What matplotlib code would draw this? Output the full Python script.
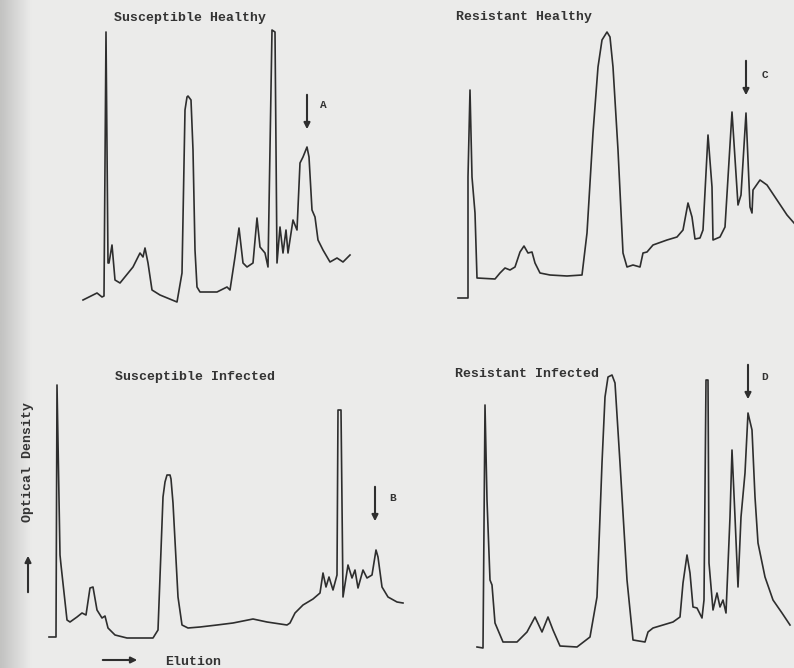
import numpy as np
import matplotlib
matplotlib.use("Agg")
import matplotlib.pyplot as plt

# elution position (arbitrary units) and optical density (arbitrary units)
sh_elution = [3, 17, 22, 24, 26, 28, 29, 32, 35, 40, 53, 60, 63, 65, 68, 72, 80, 97, 102, 105, 107, 108,
              111, 113, 115, 117, 120, 137, 147, 150, 155, 159, 163, 167, 173, 177, 180, 185, 188, 192,
              195, 197, 200, 203, 206, 208, 213, 217, 220, 223, 227, 229, 232, 235, 238, 243, 250, 257,
              263, 270]
sh_od = [10, 17, 13, 14, 278, 47, 47, 65, 30, 27, 43, 57, 53, 62, 47, 20, 15, 8, 37, 200, 213, 214,
         210, 160, 60, 23, 18, 18, 23, 20, 53, 82, 47, 43, 47, 92, 63, 57, 43, 280,
         278, 47, 83, 57, 80, 57, 90, 80, 147, 153, 163, 153, 100, 93, 70, 60, 48, 52,
         48, 55]

rh_elution = [8, 18, 18, 20, 22, 25, 27, 45, 50, 55, 60, 65, 70, 74, 78, 82, 85, 90, 100, 117, 132, 137,
              143, 148, 152, 157, 160, 163, 168, 173, 177, 183, 190, 193, 197, 203, 217, 227, 233, 238,
              242, 245, 250, 253, 258, 262, 263, 270, 275, 282, 288, 291, 296, 300, 302, 303, 310, 317,
              327, 337, 344]
rh_od = [12, 12, 133, 220, 133, 97, 32, 31, 37, 42, 40, 43, 58, 64, 57, 58, 47, 37, 35, 34, 35, 77,
         177, 243, 270, 278, 273, 243, 160, 57, 43, 45, 43, 57, 58, 65, 70, 73, 80, 107,
         93, 71, 72, 80, 175, 123, 70, 73, 83, 198, 105, 115, 197, 103, 97, 120, 130, 125,
         110, 95, 87]

si_elution = [4, 11, 12, 15, 16, 22, 25, 32, 37, 41, 45, 48, 52, 57, 60, 63, 70, 82, 108, 113, 118, 120,
              122, 125, 126, 128, 133, 137, 143, 155, 172, 188, 208, 222, 242, 245, 250, 258, 268, 275,
              278, 281, 284, 288, 292, 293, 296, 298, 303, 307, 310, 313, 318, 322, 327, 331, 333, 337,
              343, 352, 358]
si_od = [8, 8, 260, 90, 80, 25, 23, 28, 32, 30, 57, 58, 35, 27, 29, 17, 10, 7, 7, 15, 148, 163,
         170, 170, 166, 142, 48, 20, 17, 18, 20, 22, 26, 23, 20, 22, 32, 40, 46, 52,
         72, 58, 68, 55, 70, 235, 235, 48, 80, 67, 75, 57, 75, 67, 70, 95, 88, 58,
         48, 43, 42]

ri_elution = [7, 13, 15, 17, 20, 22, 25, 33, 47, 57, 65, 72, 78, 83, 90, 107, 120, 127, 132, 135, 138, 142,
              145, 150, 157, 163, 175, 178, 183, 203, 210, 213, 217, 220, 223, 227, 232, 234, 236, 238,
              239, 243, 247, 250, 253, 256, 260, 262, 265, 268, 271, 275, 278, 282, 285, 288, 295, 303,
              312, 320]
ri_od = [13, 12, 255, 160, 80, 75, 37, 18, 18, 28, 43, 28, 43, 30, 14, 13, 23, 63, 197, 263, 283, 285,
         277, 197, 80, 20, 18, 28, 32, 38, 43, 77, 105, 87, 53, 52, 42, 60, 280, 280,
         97, 50, 67, 53, 60, 47, 143, 210, 143, 73, 143, 187, 247, 230, 163, 117, 83, 60,
         47, 35]

titles = ["Susceptible Healthy", "Resistant Healthy", "Susceptible Infected", "Resistant Infected"]
marks = ["A", "C", "B", "D"]

W, H = 794, 668
ink = "#2e2e2e"
font = dict(family="Liberation Mono", fontweight="bold", color="#333333")

fig = plt.figure(figsize=(W / 100, H / 100), dpi=100)
fig.patch.set_facecolor("#dfdfdd")

# paper tone, a little darker at the left edge
bg = fig.add_axes([0, 0, 1, 1], zorder=-1)
grad = np.linspace(0, 1, 400)
bg.imshow(np.tile(np.clip(grad * 26, 0, 1), (2, 1)), cmap="gray", vmin=-1.5, vmax=1.0,
          aspect="auto", extent=[0, 1, 0, 1], alpha=0.4)
bg.set_xlim(0, 1)
bg.set_ylim(0, 1)
bg.axis("off")


def panel(x0, y_top, x1, y_base):
    # box given in figure pixels
    ax = fig.add_axes([x0 / W, (H - y_base) / H, (x1 - x0) / W, (y_base - y_top) / H])
    ax.set_xlim(0, x1 - x0)
    ax.set_ylim(0, y_base - y_top)
    ax.axis("off")
    ax.patch.set_alpha(0)
    return ax


axes = [panel(80, 5, 360, 310), panel(450, 5, 794, 310),
        panel(45, 345, 410, 645), panel(470, 360, 794, 660)]
traces = [(sh_elution, sh_od), (rh_elution, rh_od), (si_elution, si_od), (ri_elution, ri_od)]
title_pos = [(110, 292), (74, 293), (150, 268), (57, 286)]
arrow_x = [227, 296, 330, 278]
arrow_top = [218, 252, 161, 298]
label_pos = [(243, 205), (315, 235), (348, 147), (295, 283)]

for ax, (x, y), t, tp, m, ax_x, ax_t, lp in zip(axes, traces, titles, title_pos, marks,
                                                arrow_x, arrow_top, label_pos):
    ax.plot(x, y, color=ink, lw=1.2, solid_joinstyle="round")
    ax.text(tp[0], tp[1], t, ha="center", va="center", fontsize=9.5, **font)
    ax.annotate("", xy=(ax_x, ax_t - 40), xytext=(ax_x, ax_t),
                arrowprops=dict(arrowstyle="-|>", color=ink, lw=1.5, mutation_scale=9))
    ax.text(lp[0], lp[1], m, ha="center", va="center", fontsize=8, **font)

ax = axes[2]
ax.text(-17, 183, "Optical Density", rotation=90, ha="center", va="center", fontsize=9.5, **font)
ax.annotate("", xy=(-17, 92), xytext=(-17, 50), annotation_clip=False,
            arrowprops=dict(arrowstyle="-|>", color=ink, lw=1.5, mutation_scale=9))
ax.annotate("", xy=(95, -15), xytext=(55, -15), annotation_clip=False,
            arrowprops=dict(arrowstyle="-|>", color=ink, lw=1.5, mutation_scale=9))
ax.text(120, -17, "Elution", ha="left", va="center", fontsize=9.5, **font)

fig.savefig("out.png", dpi=100, facecolor=fig.get_facecolor())
